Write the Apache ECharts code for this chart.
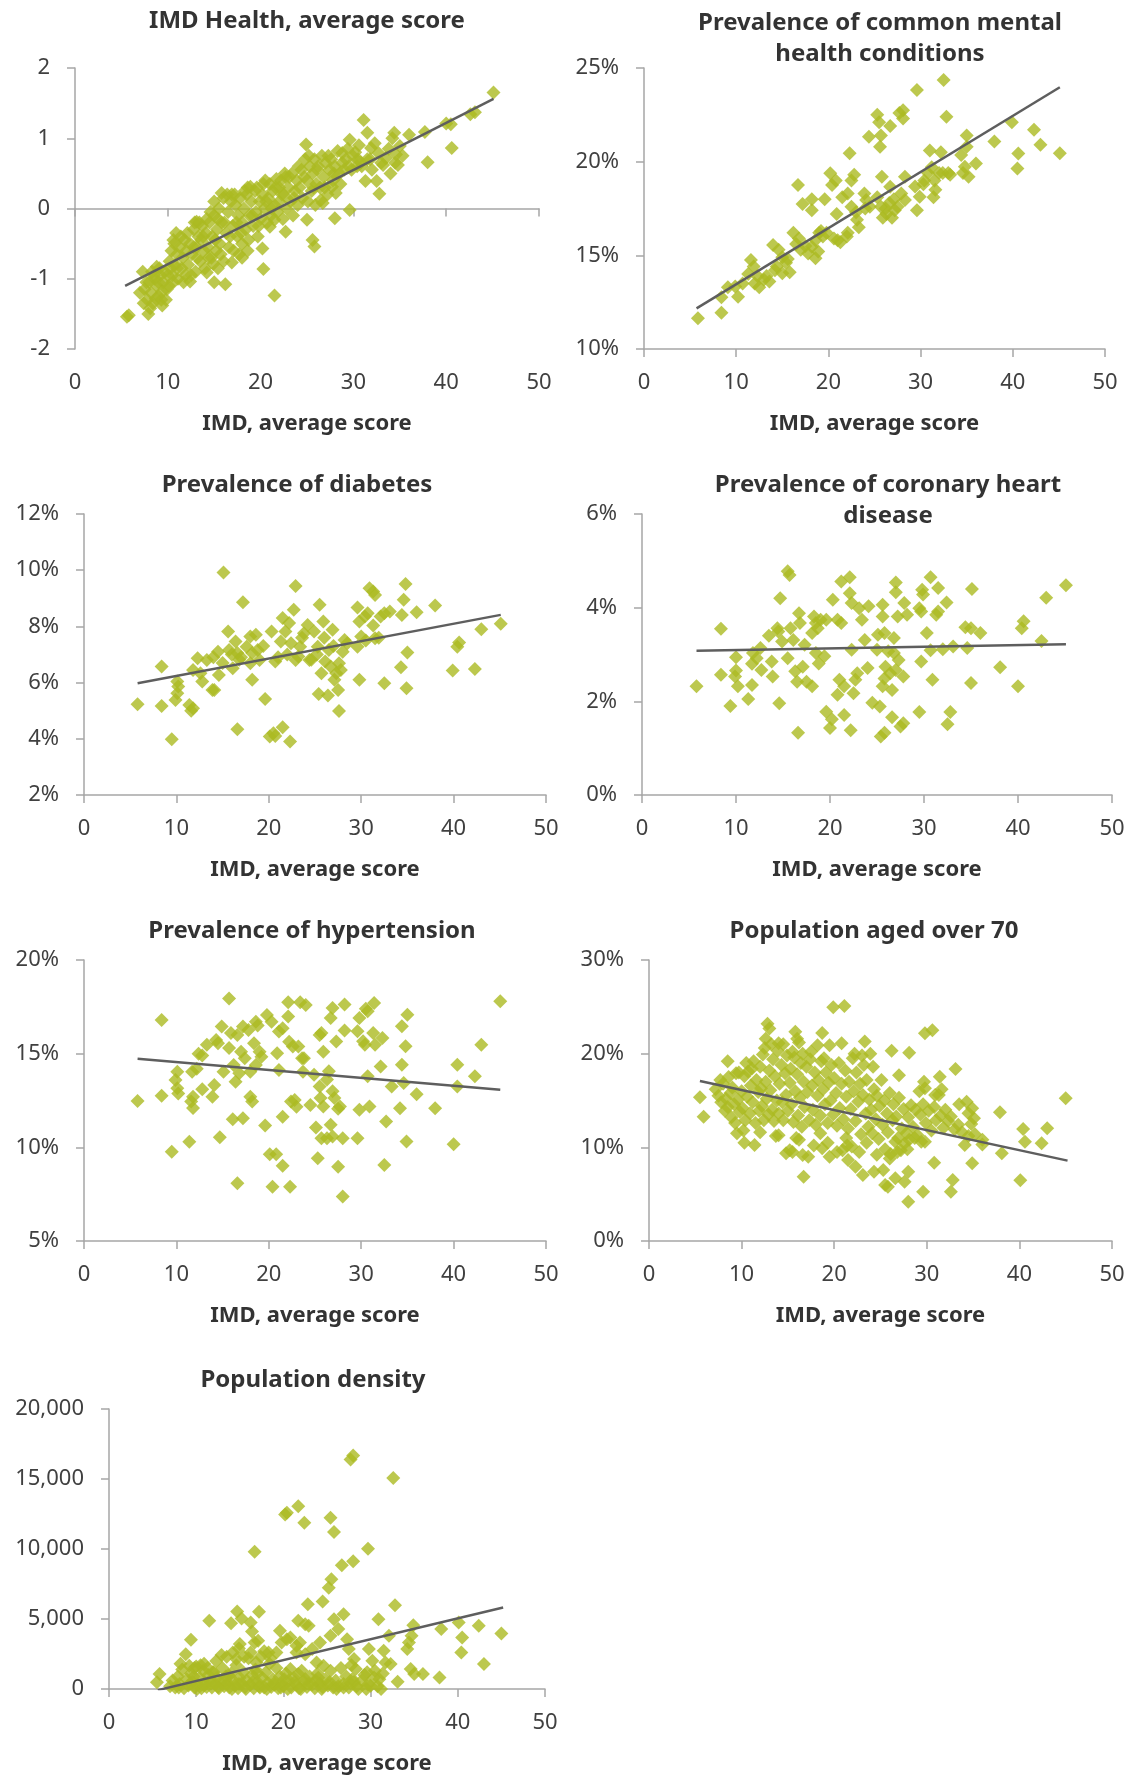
<!DOCTYPE html>
<html>
<head>
<meta charset="utf-8">
<script src="https://cdn.jsdelivr.net/npm/echarts@6/dist/echarts.min.js"></script>
<style>
  html, body { margin: 0; padding: 0; background: #ffffff; }
  #chart { width: 1132px; height: 1776px; }
</style>
</head>
<body>
<div id="chart"></div>
<script>
// ---- Data: each panel plots an area indicator against the IMD average score ----

const xTicks = [0, 10, 20, 30, 40, 50];
const xAxisTitle = 'IMD, average score';

const titles = [
  'IMD Health, average score',
  'Prevalence of common mental\nhealth conditions',
  'Prevalence of diabetes',
  'Prevalence of coronary heart\ndisease',
  'Prevalence of hypertension',
  'Population aged over 70',
  'Population density'
];

// IMD Health domain score
const healthYTicks = [-2, -1, 0, 1, 2];
const healthTrend = [[5.4, -1.10], [45.1, 1.56]];
const healthPts = [
  [45.1,1.65],[42.6,1.34],[43.1,1.37],[40.0,1.21],[40.5,1.20],[40.6,0.86],[38.0,0.66],[37.7,1.09],[36.0,1.05],
  [34.4,1.08],[34.2,1.00],[34.5,0.65],[34.6,0.77],[35.0,0.89],[31.1,1.26],[31.5,1.08],[32.3,0.93],[31.9,0.86],
  [33.2,0.62],[32.7,0.79],[31.3,0.39],[32.5,0.39],[32.8,0.21],[29.6,-0.02],[29.6,0.98],[30.0,0.74],[28.8,0.79],
  [28.3,0.82],[30.4,0.60],[29.8,0.55],[30.8,0.65],[24.9,0.91],[28.0,-0.14],[25.0,-0.16],[25.6,-0.45],[25.8,-0.54],
  [28.1,0.22],[27.7,0.31],[26.7,0.08],[26.5,0.12],[22.7,-0.33],[20.2,-0.57],[20.3,-0.86],[21.5,-1.24],[21.0,-0.26],
  [21.5,-0.16],[16.2,-1.08],[15.0,-1.05],[14.2,-0.91],[14.9,-0.79],[16.9,-0.77],[18.0,-0.70],[12.4,-1.04],[9.4,-1.38],
  [7.9,-1.50],[5.6,-1.54],[5.8,-1.52],[18.9,0.31],[15.8,0.22],[15.0,0.10],[13.1,-0.19],[10.6,-0.45],[8.8,-0.83],[7.3,-0.90],
  [7.5,-1.15],[7.8,-1.30],[8.0,-1.05],[8.2,-1.20],[8.4,-1.35],[8.5,-0.95],[8.8,-1.10],[9.0,-1.25],[9.2,-0.95],[9.3,-1.30],
  [9.5,-1.05],[9.7,-0.90],[9.9,-1.15],[8.6,-1.00],[9.1,-0.85],[10.0,-0.95],
  [10.2,-0.75],[10.4,-0.60],[10.5,-0.95],[10.7,-0.50],[10.8,-0.80],[11.0,-0.65],[11.1,-1.00],[11.3,-0.55],[11.5,-0.85],
  [11.6,-0.70],[11.8,-0.45],[11.9,-0.95],[12.0,-0.60],[10.9,-0.35],
  [12.2,-0.80],[12.4,-0.50],[12.6,-0.65],[12.8,-0.30],[13.0,-0.90],[13.1,-0.55],[13.3,-0.40],[13.5,-0.75],[13.7,-0.25],
  [13.9,-0.60],[14.0,-0.85],[12.9,-0.20],[13.6,-0.45],[14.1,-0.35],
  [14.3,-0.55],[14.5,-0.20],[14.7,-0.70],[14.8,-0.40],[15.0,-0.10],[15.2,-0.60],[15.3,-0.30],[15.5,0.00],[15.6,-0.50],
  [15.8,-0.20],[16.0,-0.75],[16.0,0.15],[15.4,-0.85],[14.6,-0.05],
  [16.3,-0.35],[16.5,-0.05],[16.6,-0.55],[16.8,0.10],[17.0,-0.25],[17.1,-0.60],[17.3,0.05],[17.5,-0.40],[17.6,-0.10],
  [17.8,0.15],[18.0,-0.50],[18.0,-0.20],[16.9,0.20],[17.7,-0.65],
  [18.2,0.00],[18.4,-0.30],[18.5,0.20],[18.7,-0.45],[18.8,-0.10],[19.0,0.10],[19.2,-0.25],[19.4,0.25],[19.5,-0.05],
  [19.7,-0.40],[19.9,0.10],[20.0,-0.15],[18.6,0.30],
  [20.2,0.20],[20.4,0.00],[20.5,0.40],[20.7,-0.20],[20.8,0.15],[21.0,0.35],[21.1,-0.10],[21.3,0.25],[21.5,0.05],
  [21.7,0.42],[21.8,-0.05],[22.0,0.30],[22.0,0.10],
  [22.2,0.40],[22.4,-0.15],[22.5,0.20],[22.7,0.45],[22.8,0.00],[23.0,0.30],[23.2,0.10],[23.4,0.50],[23.5,-0.10],
  [23.7,0.25],[23.9,0.40],[24.0,0.05],
  [24.2,0.30],[24.4,0.55],[24.5,0.15],[24.8,0.70],[25.0,0.40],[25.1,0.10],[25.3,0.60],[25.5,0.25],[25.6,0.50],
  [25.8,0.70],[26.0,0.35],[25.9,0.05],
  [26.2,0.60],[26.4,0.30],[26.6,0.75],[26.8,0.45],[27.0,0.65],[27.2,0.20],[27.4,0.55],[27.6,0.70],[27.8,0.40],[28.0,0.60],
  [28.5,0.50],[28.8,0.65],[29.2,0.70],[29.5,0.60],[30.2,0.80],[30.5,0.70],[30.9,0.60],[31.5,0.70],[32.0,0.55],
  [33.0,0.65],[33.5,0.72],[34.8,0.62],[35.3,0.75],
  [7.0,-1.20],[7.4,-1.35],[7.7,-1.05],[8.1,-1.42],[8.3,-0.90],[8.7,-1.28],[9.0,-1.05],[9.4,-1.18],[9.8,-1.30],[10.1,-1.10],
  [10.3,-0.85],[10.6,-1.05],[11.0,-0.85],[11.4,-0.40],[11.7,-1.05],[12.1,-0.35],[12.5,-0.95],[12.8,-0.55],[13.2,-0.70],
  [13.4,-0.20],[13.8,-0.40],[14.2,-0.15],[14.4,-0.70],[15.1,-0.45],[15.4,-0.15],[15.7,-0.65],[16.1,-0.20],[16.4,0.20],
  [16.7,-0.40],[17.2,0.20],[17.4,-0.20],[17.9,-0.35],[18.3,0.25],[18.6,-0.60],[19.1,-0.10],[19.6,0.30],[19.8,-0.25],
  [20.3,0.35],[20.6,0.10],[21.2,0.00],[21.6,0.30],[22.3,0.20],[22.6,0.50],[23.1,0.45],[23.6,0.15],[24.1,0.60],[24.7,0.45],
  [25.2,0.75],[25.7,0.30],[26.1,0.55],[26.9,0.30],[27.3,0.75],[27.9,0.50],[28.6,0.35],[29.0,0.55],[29.4,0.85],[30.6,0.90],
  [31.8,0.70],[33.8,0.85],[34.0,0.50]
];

// Common mental health conditions, % of population
const mentalYTicks = [10, 15, 20, 25];
const mentalTrend = [[5.7, 12.17], [45.1, 23.97]];
const mentalPts = [
  [5.85,11.64],[8.4,11.94],[8.4,12.76],[10.2,12.79],[9.1,13.3],[9.9,13.33],[10.7,13.5],[11.6,14.75],[11.9,14.4],
  [11.3,14.0],[12.3,13.9],[13.0,13.7],[12.5,13.3],[13.6,13.6],[14.0,15.55],[14.6,15.3],[15.0,14.9],[14.4,14.4],
  [15.0,14.04],[15.8,14.1],[15.4,14.6],[16.2,16.2],[16.8,15.9],[16.7,18.75],[17.2,17.74],[18.2,18.0],[18.2,17.4],
  [17.0,15.3],[17.8,15.1],[18.6,14.84],[18.2,15.46],[19.0,16.2],[19.4,16.0],[18.6,15.8],[19.6,18.0],[20.2,19.38],
  [20.4,18.75],[20.8,19.0],[19.8,16.2],[20.6,15.9],[21.3,15.7],[20.9,17.2],[21.5,18.1],[22.1,18.3],[22.3,20.45],
  [22.8,19.3],[22.5,19.0],[22.1,16.2],[22.5,17.6],[23.1,16.9],[23.3,16.5],[24.1,17.95],[24.5,17.6],[23.9,18.3],
  [24.4,21.33],[25.3,22.5],[25.5,22.1],[25.7,21.4],[25.6,20.8],[26.7,21.9],[27.7,22.6],[28.1,22.75],[28.1,22.3],
  [25.8,19.2],[25.3,18.1],[25.7,17.6],[26.3,17.2],[25.9,17.0],[26.7,18.66],[27.1,18.0],[26.9,17.0],[27.5,17.6],
  [27.9,18.3],[28.3,17.95],[28.3,19.2],[29.6,23.83],[32.5,24.36],[32.8,22.4],[29.6,17.4],[29.9,18.13],[29.4,18.67],
  [30.4,19.0],[30.8,19.4],[31.0,20.6],[31.2,19.7],[31.6,18.5],[31.4,18.1],[32.0,19.4],[32.2,20.5],[32.4,19.4],
  [33.2,19.3],[34.4,20.36],[34.8,19.73],[35.0,21.4],[34.6,19.4],[35.2,19.2],[35.0,20.8],[36.0,19.9],[38.0,21.07],
  [39.9,22.1],[40.5,19.64],[40.6,20.44],[42.3,21.7],[43.0,20.9],[45.1,20.45],
  [14.2,14.2],[15.6,14.8],[16.5,15.6],[17.5,15.5],[18.9,15.2],[19.2,16.3],[21.0,15.8],[22.0,16.0],[23.0,17.3],
  [24.0,17.5],[26.2,17.5],[26.6,17.8],[27.2,17.4],[30.3,18.8],[31.5,19.0],[33.0,19.4],[12.0,13.5],[13.3,13.9]
];

// Diabetes prevalence, %
const diabetesYTicks = [2, 4, 6, 8, 10, 12];
const diabetesTrend = [[5.8, 5.98], [45.1, 8.41]];
const diabetesPts = [
  [5.8,5.23],[8.4,6.57],[8.4,5.17],[9.5,3.98],[10.1,6.04],[10.2,5.86],[9.9,5.38],[10.1,5.62],[11.4,5.2],[11.8,5.09],
  [11.6,5.0],[11.8,6.45],[12.3,6.87],[12.6,6.33],[12.8,6.04],[13.3,6.8],[13.9,5.74],[14.1,5.74],[14.5,7.1],[14.6,6.27],
  [15.1,9.92],[15.6,7.82],[15.7,7.16],[16.1,6.51],[16.4,7.46],[16.6,7.05],[16.8,6.81],[16.6,4.34],[17.2,8.86],
  [17.6,7.28],[18.0,7.64],[18.2,7.05],[18.6,7.7],[18.8,7.16],[18.0,6.69],[18.2,6.1],[19.6,5.42],[20.1,4.08],[20.5,4.2],
  [20.7,4.1],[20.3,7.82],[20.7,6.75],[21.3,7.46],[21.8,7.82],[21.5,8.3],[22.2,8.12],[21.5,4.41],[22.3,3.9],[22.7,8.59],
  [22.9,9.44],[22.4,7.4],[22.9,6.8],[23.2,6.93],[23.4,7.28],[23.8,7.76],[24.2,8.05],[24.6,6.81],[24.9,7.82],[25.3,7.28],
  [25.5,8.77],[25.9,8.17],[26.1,6.75],[25.7,6.33],[25.4,5.59],[26.4,5.54],[26.5,7.16],[26.7,6.57],[26.9,7.88],[27.3,6.33],
  [27.1,6.1],[27.5,5.74],[27.6,6.69],[27.8,6.45],[27.6,4.99],[28.2,7.52],[28.0,7.1],[29.6,8.67],[29.8,8.17],[29.6,7.28],
  [30.0,7.64],[29.8,6.1],[30.4,8.35],[30.7,8.47],[30.9,9.36],[31.3,9.24],[31.5,9.12],[31.3,8.03],[31.5,7.58],[32.1,8.35],
  [32.5,8.47],[33.1,8.53],[32.5,5.98],[34.3,6.55],[34.4,8.41],[34.6,8.95],[34.8,9.51],[35.0,7.07],[34.9,5.8],[36.0,8.5],
  [38.0,8.74],[39.9,6.43],[40.4,7.28],[40.6,7.43],[42.3,6.48],[43.0,7.9],[45.1,8.09],
  [14.0,6.9],[15.0,6.7],[16.0,7.0],[17.0,6.9],[19.0,6.8],[19.4,7.3],[21.0,6.9],[22.0,7.0],[23.6,7.6],[24.4,6.8],
  [25.2,7.0],[26.0,7.6],[27.0,7.3],[28.5,7.4],[30.5,7.5],[31.9,7.6]
];

// Coronary heart disease prevalence, %
const chdYTicks = [0, 2, 4, 6];
const chdTrend = [[5.8, 3.08], [45.1, 3.22]];
const chdPts = [
  [5.8,2.32],[8.4,3.55],[8.4,2.57],[9.4,1.9],[10.0,2.94],[10.0,2.66],[9.9,2.53],[10.2,2.32],[11.3,2.05],[11.7,2.35],
  [11.7,2.8],[11.8,3.03],[12.2,2.92],[12.6,3.14],[12.7,2.67],[13.5,3.4],[13.9,2.53],[13.8,2.85],[14.4,3.56],[14.5,3.49],
  [14.9,3.28],[14.7,4.2],[14.6,1.96],[15.5,4.78],[15.7,4.7],[15.5,2.92],[15.8,3.56],[16.1,3.31],[16.3,2.64],[16.7,3.88],
  [16.8,3.67],[17.1,2.74],[16.5,2.42],[16.6,1.33],[17.3,3.21],[17.5,2.42],[18.1,2.32],[18.3,3.81],[18.5,3.67],[18.1,3.46],
  [18.7,3.56],[18.5,3.03],[18.8,2.81],[19.0,3.74],[19.6,3.74],[19.4,2.96],[19.6,1.78],[20.2,1.62],[20.0,1.43],[20.3,4.17],
  [20.8,3.74],[21.2,3.67],[21.0,2.46],[20.8,2.14],[21.5,2.32],[21.5,1.71],[21.2,4.56],[22.1,4.65],[22.1,4.31],[22.3,4.1],
  [22.3,3.1],[22.5,2.17],[22.7,2.46],[22.9,2.6],[22.2,1.38],[23.1,3.99],[23.4,3.74],[23.7,3.31],[24.1,4.03],[24.0,2.71],
  [24.5,1.97],[25.3,1.89],[25.1,3.42],[25.0,3.1],[25.6,4.06],[25.6,3.81],[26.2,3.07],[25.8,3.46],[25.8,2.49],[25.6,2.32],
  [25.9,2.74],[26.6,2.24],[26.4,2.6],[26.8,3.35],[26.8,3.03],[27.0,4.33],[27.0,4.54],[27.2,3.81],[27.0,2.67],[27.3,2.88],
  [27.8,2.53],[27.9,4.1],[28.2,3.85],[25.4,1.25],[25.8,1.33],[26.6,1.66],[27.5,1.46],[27.8,1.53],[29.5,3.99],[29.7,3.92],
  [29.8,4.38],[29.9,4.28],[29.7,2.85],[29.5,1.77],[30.3,3.46],[30.7,3.09],[30.7,4.65],[30.9,2.46],[31.3,3.85],[31.5,3.92],
  [31.5,4.42],[32.0,3.11],[32.4,4.11],[33.1,3.17],[32.8,1.77],[32.5,1.51],[34.4,3.58],[34.6,3.14],[35.0,3.56],[35.1,4.4],
  [35.0,2.39],[36.0,3.46],[38.1,2.73],[40.0,2.32],[40.4,3.56],[40.6,3.71],[42.5,3.29],[43.0,4.21],[45.1,4.48]
];

// Hypertension prevalence, %
const hypertensionYTicks = [5, 10, 15, 20];
const hypertensionTrend = [[5.8, 14.73], [45.05, 13.07]];
const hypertensionPts = [
  [5.8,12.47],[8.4,16.8],[8.4,12.76],[9.5,9.77],[10.1,14.04],[9.9,13.6],[10.1,13.15],[10.2,12.88],[11.4,10.3],
  [11.7,14.04],[11.8,12.7],[11.6,12.44],[11.8,12.1],[12.2,14.2],[12.4,15.0],[12.8,14.9],[12.8,13.1],[13.3,15.47],
  [13.9,12.7],[14.1,13.33],[14.3,15.73],[14.5,15.55],[14.9,16.45],[15.1,14.04],[14.7,10.54],[15.7,17.94],[15.9,16.1],
  [15.7,15.3],[16.2,14.4],[16.4,13.5],[16.6,16.0],[16.8,13.95],[16.1,11.5],[17.2,11.55],[16.6,8.08],[17.0,15.1],
  [17.4,14.75],[17.2,16.45],[17.8,16.27],[18.0,12.7],[18.2,12.44],[18.0,14.04],[18.4,15.55],[18.6,16.7],[18.8,16.5],
  [18.6,14.4],[19.0,15.1],[19.2,14.84],[19.6,11.16],[19.8,17.06],[20.3,16.7],[20.1,9.63],[20.8,9.63],[20.4,7.9],
  [20.9,15.02],[21.1,14.13],[21.1,16.18],[21.5,16.36],[21.5,11.63],[21.5,9.02],[22.1,17.74],[22.1,16.98],[22.2,15.64],
  [22.4,12.44],[22.3,7.9],[22.6,15.38],[22.8,12.53],[23.0,12.17],[23.2,15.38],[23.4,17.74],[23.6,14.75],[23.8,14.75],
  [24.0,17.6],[23.7,14.04],[24.5,12.26],[24.9,13.88],[25.1,11.06],[25.3,9.42],[25.5,16.0],[25.7,16.1],[25.5,13.25],
  [25.6,12.63],[25.9,12.18],[25.9,15.1],[25.7,10.49],[26.3,10.49],[26.3,13.62],[26.5,14.06],[26.7,11.2],[26.9,10.58],
  [26.9,12.99],[27.1,12.63],[26.7,16.9],[26.9,17.44],[27.3,15.65],[27.5,12.06],[27.7,12.18],[27.5,8.97],[28.0,7.37],
  [28.0,10.49],[28.2,16.23],[28.2,17.62],[29.6,10.49],[29.8,12.0],[29.6,16.19],[29.8,16.9],[30.2,15.66],[30.4,15.48],
  [30.7,17.26],[30.5,17.4],[30.7,13.79],[30.9,12.18],[31.3,16.1],[31.5,15.48],[31.4,17.7],[32.1,14.32],[32.3,15.84],
  [32.7,11.38],[32.5,9.06],[33.3,13.25],[34.2,12.09],[34.4,14.41],[34.4,16.46],[34.6,13.43],[34.8,15.39],[35.0,17.08],
  [34.9,10.31],[36.0,12.84],[38.0,12.09],[40.0,10.17],[40.4,14.41],[40.4,13.25],[42.3,13.79],[43.0,15.48],[45.05,17.8]
];

// Population aged over 70, %
const over70YTicks = [0, 10, 20, 30];
const over70Trend = [[5.5, 17.08], [45.2, 8.58]];
const over70Pts = [
  [5.5,15.34],[5.9,13.27],[8.5,19.2],[7.7,17.2],[9.5,11.5],[10.3,10.5],[11.4,10.25],[12.8,23.2],[13.0,22.7],[12.6,21.6],
  [14.0,21.1],[14.0,11.3],[14.8,9.36],[15.2,9.7],[15.5,9.5],[15.8,22.35],[16.0,21.6],[16.2,10.8],[16.6,9.18],[17.2,9.0],
  [16.7,6.87],[18.2,20.9],[18.7,22.2],[19.5,20.9],[19.9,24.95],[21.1,25.1],[20.8,21.1],[18.5,11.5],[18.7,9.9],[19.5,9.0],
  [20.3,9.5],[20.9,9.7],[21.3,11.0],[21.5,8.65],[22.3,7.94],[23.1,7.05],[21.9,10.1],[22.7,9.5],[23.3,21.3],[23.9,20.0],
  [24.2,18.6],[24.3,7.4],[25.3,7.58],[25.5,5.98],[25.8,5.8],[26.2,20.3],[27.0,17.7],[26.6,6.69],[27.6,6.33],[28.0,4.2],
  [28.1,20.1],[28.0,7.4],[29.6,5.27],[29.8,22.17],[30.6,22.5],[29.7,17.0],[29.8,16.3],[29.4,10.6],[29.8,10.6],[31.4,17.54],
  [30.8,8.36],[32.6,5.27],[32.8,6.5],[33.1,18.36],[34.3,14.87],[34.5,13.63],[34.1,10.25],[34.9,14.16],[35.1,13.1],
  [34.9,8.3],[36.0,10.3],[37.9,13.74],[38.1,9.36],[40.1,6.48],[40.4,11.96],[40.6,10.6],[42.4,10.43],[43.0,12.03],[45.0,15.23],
  [7.2,16.2],[7.5,15.5],[7.8,14.8],[8.0,16.8],[8.2,13.9],[8.3,15.2],[8.5,14.3],[8.6,17.5],[8.8,15.8],[8.9,13.2],
  [9.0,16.4],[9.2,14.6],[9.3,12.6],[9.4,17.9],[9.6,15.1],[9.8,13.8],
  [10.0,16.0],[10.1,14.2],[10.3,17.6],[10.4,12.9],[10.6,15.4],[10.7,18.1],[10.9,13.6],[11.0,16.6],[11.2,14.8],[11.3,19.2],
  [11.5,12.6],[11.6,17.2],[11.8,15.9],[11.9,13.9],[12.0,18.6],[12.1,16.3],[12.2,14.4],[12.3,19.9],[12.4,12.9],
  [12.6,17.0],[12.7,15.2],[12.9,13.5],[13.0,18.2],[13.1,16.1],[13.3,14.0],[13.4,19.4],[13.5,12.8],[13.6,17.6],[13.8,15.0],
  [13.9,20.3],[14.0,13.6],[14.1,16.8],[14.3,18.8],[14.4,14.8],[14.5,12.9],[14.7,17.9],[14.8,15.6],[14.9,19.8],[15.0,13.9],
  [15.2,16.9],[15.3,18.4],[15.4,14.6],[15.6,12.7],[15.7,19.6],[15.8,16.0],[16.0,17.8],[16.1,13.4],[16.3,15.3],[16.4,19.0],
  [16.5,12.2],[16.7,17.0],[16.8,14.3],[17.0,18.6],[17.1,15.9],[17.3,12.9],[17.4,19.4],[17.6,16.6],[17.7,14.0],[17.9,18.0],
  [18.0,12.4],[18.2,15.5],[18.3,17.2],[18.5,13.4],[18.6,19.2],[18.8,16.2],[19.0,14.6],[19.1,18.0],[19.3,12.6],[19.4,16.9],
  [19.6,15.0],[19.7,18.8],[19.9,13.5],[20.0,17.4],[20.2,15.8],[20.3,12.3],[20.5,19.0],[20.6,14.2],[20.8,16.8],[21.0,13.0],
  [21.2,18.2],[21.3,15.4],[21.5,12.0],[21.6,17.0],[21.8,14.1],[22.0,19.5],[22.1,16.0],[22.3,12.8],[22.4,18.0],[22.6,14.9],
  [22.8,16.8],[22.9,11.4],[23.1,15.6],[23.2,18.8],[23.4,13.6],[23.5,17.2],[23.7,12.2],[23.8,15.1],[24.0,14.0],[24.1,11.5],
  [24.3,16.2],[24.5,13.0],[24.6,15.5],[24.8,10.9],[24.9,14.4],[25.1,17.2],[25.2,12.4],[25.4,15.0],[25.5,9.8],[25.7,13.6],
  [25.8,11.6],[26.0,15.8],[26.1,9.3],[26.3,12.9],[26.4,14.6],[26.6,10.6],[26.7,13.3],[26.9,11.0],[27.0,15.3],[27.2,9.7],
  [27.3,12.0],[27.5,14.1],[27.6,10.4],[27.8,11.5],[28.0,13.2],[28.1,10.8],[28.3,14.5],
  [28.5,12.2],[28.8,14.0],[29.0,11.3],[29.3,13.5],[29.6,14.6],[29.9,12.6],[30.2,13.9],[30.5,11.8],[30.8,14.3],[31.0,12.9],
  [31.3,15.6],[31.5,13.4],[31.8,12.1],[32.0,14.0],[32.3,12.8],[32.6,13.3],[33.0,11.9],[33.4,12.4],[33.8,11.6],[34.5,11.2],
  [34.8,12.5],[35.2,11.4],[36.0,10.8],
  [9.7,18.0],[10.5,19.0],[11.1,18.4],[12.5,20.6],[13.2,21.0],[14.5,21.0],[15.5,20.2],[16.6,20.0],[17.5,20.2],[18.9,19.5],
  [10.2,11.8],[12.0,11.6],[13.7,11.2],[15.9,11.0],[17.8,10.2],[19.3,10.5],[21.4,10.2],[23.5,10.5],[24.6,9.2],[26.0,8.8],
  [26.8,9.5],[27.9,9.8],[28.7,11.0],[29.2,16.0],[30.9,15.6],[31.6,16.2],[33.5,14.6],[22.2,20.0],[23.0,19.8],[16.2,21.2]
];

// Population density, persons per km²
const densityYTicks = [0, 5000, 10000, 15000, 20000];
const densityTrend = [[5.6, -80], [45.2, 5820]];
const densityPts = [
  [27.7,16390],[28.0,16670],[32.6,15080],[20.2,12470],[20.4,12590],[21.7,13060],[22.4,11880],[25.4,12230],[25.8,11210],
  [16.7,9810],[29.7,10020],[26.7,8840],[28.0,9120],[25.5,7840],[25.2,7240],[22.8,6060],[24.5,6250],[32.8,5990],
  [11.5,4870],[14.7,5530],[17.2,5510],[15.2,5040],[16.25,4750],[14.0,4700],[21.7,4870],[22.9,4510],[22.5,4630],
  [25.8,4990],[26.9,5340],[26.3,4280],[25.4,3800],[30.9,4990],[34.9,4560],[34.7,3800],[38.1,4280],[40.1,4750],
  [40.5,3680],[40.4,2610],[42.4,4510],[43.0,1780],[45.0,3970],[37.9,830],[36.0,1070],[34.6,1430],[35.0,1070],
  [34.2,2850],[34.4,3330],[33.1,520],[32.1,3800],[31.5,2730],[31.7,1900],[32.3,1780],[29.8,2850],[30.2,2020],
  [29.6,1190],[30.4,830],[30.0,240],[28.1,2140],[28.3,1430],[27.9,710],[27.3,3560],[27.5,2850],[9.4,3520],[8.8,2490],
  [9.2,1660],[5.8,1070],[5.5,480],[12.9,2420],[14.2,2610],[15.0,3210],[14.6,2140],[16.7,3330],[17.1,3440],[16.25,2610],
  [16.9,1900],[18.3,2610],[19.2,2610],[19.6,4160],[19.8,3330],[20.4,3560],[20.8,3680],[21.5,3090],[21.9,3330],
  [21.5,2610],[22.5,2490],[23.3,2850],[24.2,3330],[23.8,1900],[24.6,1660],[20.8,1430],[21.7,1070],[22.5,710],
  [7.0,200],[7.3,600],[7.6,100],[7.9,900],[8.1,350],[8.4,1400],[8.6,50],[8.9,700],[9.1,250],[9.4,1100],[9.6,500],
  [9.8,100],[10.0,1600],[10.2,300],[10.4,800],[10.6,50],[10.8,1300],[11.0,450],[11.2,150],[11.4,1000],[11.6,600],
  [11.8,100],[12.0,1200],[12.2,350],[12.4,800],[12.6,50],[12.8,500],[13.0,1500],[13.2,200],[13.4,900],[13.6,400],
  [13.8,100],[14.0,1100],[14.2,650],[14.4,250],[14.6,1700],[14.8,50],[15.0,800],[15.2,400],[15.4,1200],[15.6,150],
  [15.8,600],[16.0,2200],[16.2,300],[16.4,1000],[16.6,50],[16.8,1400],[17.0,500],[17.2,200],[17.4,2300],[17.6,800],
  [17.8,100],[18.0,1200],[18.2,450],[18.4,1800],[18.6,150],[18.8,700],[19.0,300],[19.2,1500],[19.4,50],[19.6,900],
  [19.8,400],[20.0,200],[20.3,1100],[20.6,600],[20.9,100],[21.2,800],[21.5,300],[21.8,50],[22.1,1300],[22.4,500],
  [22.7,150],[23.0,900],[23.3,300],[23.6,50],[23.9,1100],[24.2,400],[24.5,150],[24.8,700],[25.1,250],[25.4,1300],
  [25.7,100],[26.0,600],[26.3,200],[26.6,1500],[26.9,350],[27.2,900],[27.5,100],[27.8,1700],[28.1,500],[28.4,200],
  [29.0,600],[29.3,1000],[29.7,300],[30.5,1300],[31.0,700],[31.4,1100],
  [9.8,1500],[10.5,1700],[11.3,1500],[12.3,2000],[13.5,2300],[14.9,2900],[15.5,2300],[16.4,4100],[17.8,2700],
  [18.5,2200],[10.9,1800],[11.9,1200],[8.2,1800],
  [8.0,100],[9.3,400],[10.1,0],[10.9,250],[11.7,400],[12.5,150],[13.3,600],[14.1,0],[14.9,350],[15.7,0],[16.5,500],
  [17.3,100],[18.1,0],[18.9,400],[19.7,100],[20.5,0],[21.3,500],[22.0,0],[22.9,350],[23.7,600],[24.4,0],[25.3,500],
  [26.1,0],[26.9,100],[27.7,400],[28.6,0],[29.5,0],[30.8,200],[31.2,0],[20.1,700],[24.0,800],[13.7,1000],[17.0,1100],[9.7,900]
];

// ---- Styling ----
const FONT = '"Noto Sans", "Open Sans", sans-serif';
const MARK = '#ABBA22';
const TREND = '#5E5E5E';
const AXIS = '#A6A6A6';
const LABEL = '#404040';
const TITLE = '#333333';

const pct = v => v + '%';
const thousands = v => v.toLocaleString('en-US');

const panels = [
  { pts: healthPts, trend: healthTrend, ticks: healthYTicks, fmt: v => String(v), zeroLine: true,
    grid: { left: 75, top: 68, width: 464, height: 281 }, tx: 307, ty: 6 },
  { pts: mentalPts, trend: mentalTrend, ticks: mentalYTicks, fmt: pct,
    grid: { left: 644, top: 68, width: 461, height: 281 }, tx: 880, ty: 8 },
  { pts: diabetesPts, trend: diabetesTrend, ticks: diabetesYTicks, fmt: pct,
    grid: { left: 84, top: 514, width: 462, height: 281 }, tx: 297, ty: 470 },
  { pts: chdPts, trend: chdTrend, ticks: chdYTicks, fmt: pct,
    grid: { left: 642, top: 514, width: 470, height: 281 }, tx: 888, ty: 470 },
  { pts: hypertensionPts, trend: hypertensionTrend, ticks: hypertensionYTicks, fmt: pct,
    grid: { left: 84, top: 960, width: 462, height: 281 }, tx: 312, ty: 916 },
  { pts: over70Pts, trend: over70Trend, ticks: over70YTicks, fmt: pct,
    grid: { left: 649, top: 960, width: 463, height: 281 }, tx: 874, ty: 916 },
  { pts: densityPts, trend: densityTrend, ticks: densityYTicks, fmt: thousands,
    grid: { left: 109, top: 1409, width: 436, height: 281 }, tx: 313, ty: 1365 }
];

const axisLineStyle = { color: AXIS, width: 1.5 };
const tickLabel = { fontSize: 22, color: LABEL, fontFamily: FONT };
const nameStyle = { fontSize: 22, fontWeight: 'bold', color: TITLE, fontFamily: FONT };

const grids = [], xAxes = [], yAxes = [], series = [], graphics = [];

panels.forEach((p, i) => {
  grids.push(Object.assign({ containLabel: false }, p.grid));

  const xBase = {
    type: 'value', gridIndex: i,
    min: xTicks[0], max: xTicks[xTicks.length - 1], interval: xTicks[1] - xTicks[0],
    splitLine: { show: false }
  };
  const xNamed = {
    name: xAxisTitle, nameLocation: 'middle', nameGap: 64, nameTextStyle: nameStyle,
    axisLabel: Object.assign({ margin: 23 }, tickLabel)
  };

  let xIndex;
  if (p.zeroLine) {
    // axis line and ticks cross at y = 0, the tick labels sit along the bottom
    xAxes.push(Object.assign({}, xBase, {
      axisLine: { show: true, onZero: true, lineStyle: axisLineStyle },
      axisTick: { show: true, length: 8, lineStyle: axisLineStyle },
      axisLabel: { show: false }
    }));
    xIndex = xAxes.length - 1;
    xAxes.push(Object.assign({}, xBase, xNamed, {
      position: 'bottom',
      axisLine: { show: false, onZero: false },
      axisTick: { show: false }
    }));
  } else {
    xAxes.push(Object.assign({}, xBase, xNamed, {
      position: 'bottom',
      axisLine: { show: true, onZero: false, lineStyle: axisLineStyle },
      axisTick: { show: true, length: 8, lineStyle: axisLineStyle }
    }));
    xIndex = xAxes.length - 1;
  }

  yAxes.push({
    type: 'value', gridIndex: i,
    min: p.ticks[0], max: p.ticks[p.ticks.length - 1], interval: p.ticks[1] - p.ticks[0],
    axisLine: { show: true, onZero: false, lineStyle: axisLineStyle },
    axisTick: { show: true, length: 8, lineStyle: axisLineStyle },
    axisLabel: Object.assign({ margin: 25, formatter: p.fmt }, tickLabel),
    splitLine: { show: false }
  });

  series.push({
    type: 'scatter', xAxisIndex: xIndex, yAxisIndex: i,
    data: p.pts, symbol: 'diamond', symbolSize: 14,
    itemStyle: { color: MARK }, z: 2, silent: true
  });
  series.push({
    type: 'line', xAxisIndex: xIndex, yAxisIndex: i,
    data: p.trend, symbol: 'none', showSymbol: false,
    lineStyle: { color: TREND, width: 2.5 }, z: 3, silent: true
  });

  graphics.push({
    type: 'text', x: p.tx, y: p.ty, silent: true,
    style: {
      text: titles[i], fill: TITLE, fontSize: 24, fontWeight: 'bold', fontFamily: FONT,
      align: 'center', verticalAlign: 'top', lineHeight: 31
    }
  });
});

const chart = echarts.init(document.getElementById('chart'), null, { renderer: 'canvas' });
chart.setOption({
  animation: false,
  backgroundColor: '#ffffff',
  grid: grids,
  xAxis: xAxes,
  yAxis: yAxes,
  series: series,
  graphic: graphics
});
</script>
</body>
</html>
